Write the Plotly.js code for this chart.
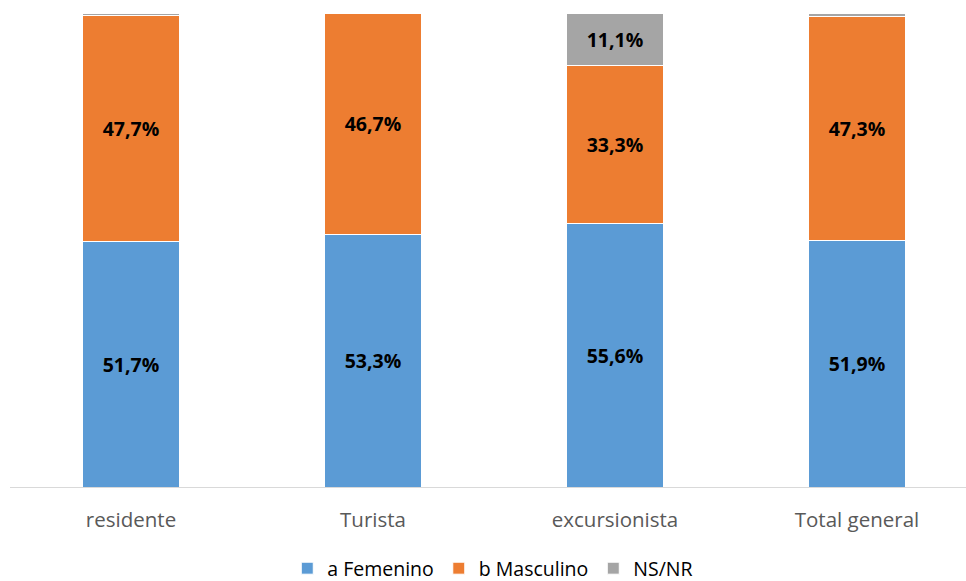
<!DOCTYPE html>
<html>
<head>
<meta charset="utf-8">
<script src="https://cdn.plot.ly/plotly-3.0.1.min.js"></script>
<style>html,body{margin:0;padding:0;background:#fff;}#chart{width:966px;height:581px;}</style>
</head>
<body>
<div id="chart"></div>
<script>
const categories = ["residente", "Turista", "excursionista", "Total general"];
const femenino = [51.7, 53.3, 55.6, 51.9];
const masculino = [47.7, 46.7, 33.3, 47.3];
const nsnr = [0.6, 0.0, 11.1, 0.8];
const seriesNames = ["a Femenino", "b Masculino", "NS/NR"];
const colors = ["#5B9BD5", "#ED7D31", "#A5A5A5"];

function labels(vals) {
  return vals.map(v => v >= 5 ? '%{y:.1f}%' : '');
}

const allSeries = [femenino, masculino, nsnr];
const traces = allSeries.map((vals, i) => ({
  type: 'bar',
  name: seriesNames[i],
  x: categories,
  y: vals,
  marker: {color: colors[i], line: {color: '#ffffff', width: 1}},
  width: 0.4,
  texttemplate: labels(vals),
  textposition: 'inside',
  insidetextanchor: 'middle',
  textangle: 0,
  textfont: {family: 'Open Sans, Liberation Sans, sans-serif', size: 19.5, color: '#000000', weight: 'bold'},
  hoverinfo: 'skip'
}));

const layout = {
  width: 966, height: 581,
  barmode: 'stack',
  separators: ',.',
  paper_bgcolor: '#ffffff', plot_bgcolor: '#ffffff',
  margin: {l: 10, r: 0, t: 13, b: 94, autoexpand: false},
  xaxis: {
    type: 'category',
    range: [-0.5, 3.4504],
    automargin: false,
    showline: true, linecolor: '#D9D9D9', linewidth: 1,
    ticks: '', showgrid: false,
    tickfont: {family: 'Open Sans, Liberation Sans, sans-serif', size: 20.5, color: '#595959'},
    ticklabelstandoff: 14
  },
  yaxis: {range: [0, 100], visible: false, showgrid: false, zeroline: false},
  showlegend: true,
  legend: {
    orientation: 'h', x: 0.505, xanchor: 'center', y: -0.172, yanchor: 'middle',
    font: {family: 'Open Sans, Liberation Sans, sans-serif', size: 19.5, color: '#000000'},
    traceorder: 'normal', itemwidth: 30
  },
  uniformtext: {mode: 'show', minsize: 19}
};

Plotly.newPlot('chart', traces, layout, {displayModeBar: false, staticPlot: true});
</script>
</body>
</html>
